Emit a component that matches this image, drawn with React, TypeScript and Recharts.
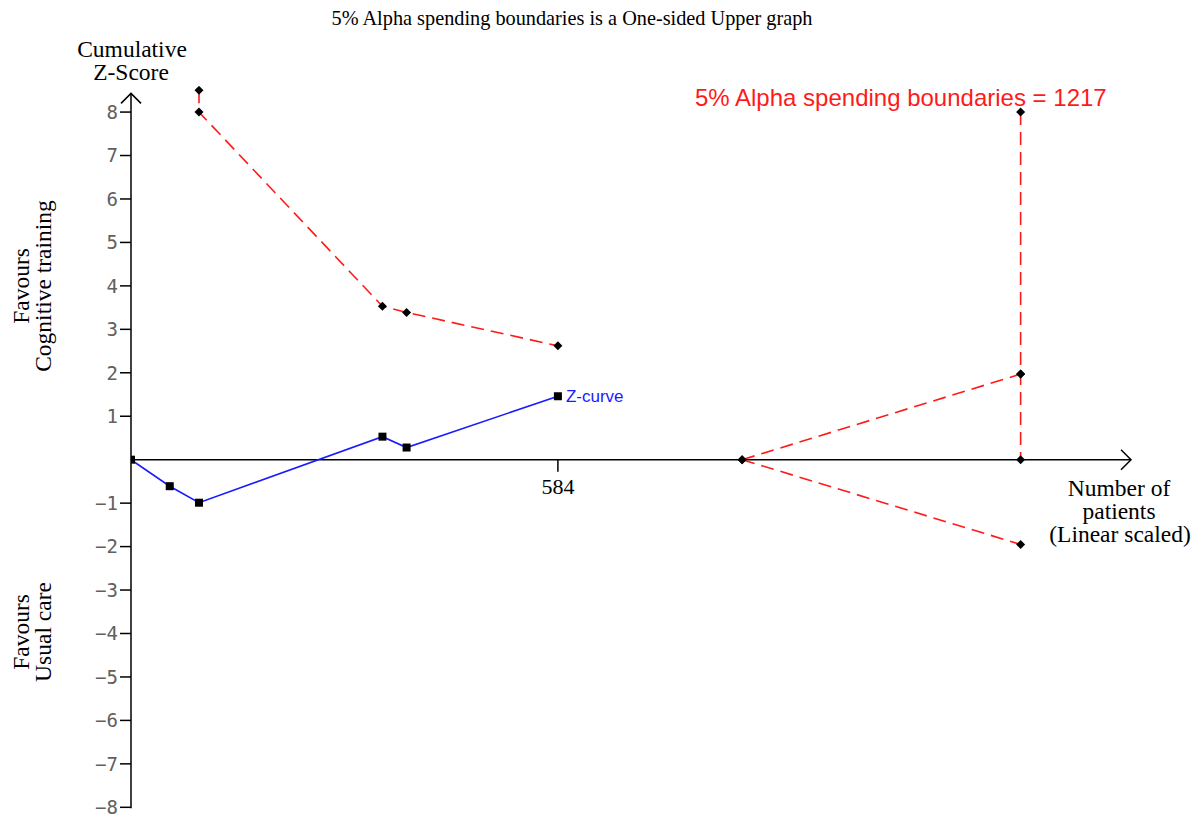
import React from "react";
import { ComposedChart, Line, XAxis, YAxis, ReferenceLine, LabelList } from "recharts";

// Z-curve (cumulative patients, cumulative Z-score)
const zPatients = [0, 53, 93, 344, 377, 584];
const zScores = [0, -0.61, -0.99, 0.53, 0.28, 1.46];

// Upper alpha spending boundary (interim looks)
const upperPatients = [93, 93, 344, 377, 584];
const upperBoundary = [8.5, 8.0, 3.53, 3.39, 2.62];

// Required information size line (vertical at 1217)
const risPatients = [1217, 1217, 1217];
const risValues = [8, 1.97, 0];

// Fan toward required information size
const fanPatients = [836, 1217];
const fanUpperValues = [0, 1.97];
const fanLowerValues = [0, -1.95];

const yTicks = [-8, -7, -6, -5, -4, -3, -2, -1, 1, 2, 3, 4, 5, 6, 7, 8];
const xTickValue = 584;
const requiredSize = 1217;

const toPts = (xs: number[], ys: number[]) => xs.map((x, i) => ({ x, y: ys[i] }));

const zData = toPts(zPatients, zScores);
const upperData = toPts(upperPatients, upperBoundary);
const risData = toPts(risPatients, risValues);
const fanUpperData = toPts(fanPatients, fanUpperValues);
const fanLowerData = toPts(fanPatients, fanLowerValues);

const RED = "#ff1a1a";
const BLUE = "#1a1aff";
const SERIF = "'Liberation Serif', 'Times New Roman', serif";
const SANS = "'Liberation Sans', Arial, sans-serif";

const Diamond = (props: any) => {
  const { cx, cy, index } = props;
  if (cx == null || cy == null) return <g key={index} />;
  const r = 4.5;
  return (
    <path
      key={index}
      d={`M${cx},${cy - r}L${cx + r},${cy}L${cx},${cy + r}L${cx - r},${cy}Z`}
      fill="#000"
    />
  );
};

const Square = (props: any) => {
  const { cx, cy, index } = props;
  if (cx == null || cy == null) return <g key={index} />;
  const r = 4;
  return <rect key={index} x={cx - r} y={cy - r} width={2 * r} height={2 * r} fill="#000" />;
};

const VArrowAxis = (props: any) => {
  const { x1, y1, y2 } = props;
  const top = Math.min(y1, y2);
  const bottom = Math.max(y1, y2);
  return (
    <g>
      <line x1={x1} y1={bottom} x2={x1} y2={top} stroke="#000" strokeWidth={1.5} />
      <path d={`M${x1 - 10},${top + 10}L${x1},${top}L${x1 + 10},${top + 10}`} fill="none" stroke="#000" strokeWidth={1.5} />
    </g>
  );
};

const HArrowAxis = (props: any) => {
  const { x1, y1, x2 } = props;
  const left = Math.min(x1, x2);
  const right = Math.max(x1, x2);
  return (
    <g>
      <line x1={left} y1={y1} x2={right} y2={y1} stroke="#000" strokeWidth={1.5} />
      <path d={`M${right - 10},${y1 - 10}L${right},${y1}L${right - 10},${y1 + 10}`} fill="none" stroke="#000" strokeWidth={1.5} />
    </g>
  );
};

const TickMark = (props: any) => {
  const { x1, y1, x2, y2 } = props;
  const top = Math.min(y1, y2);
  const bottom = Math.max(y1, y2);
  return (
    <g>
      <line x1={x1} y1={top} x2={x2} y2={bottom} stroke="#000" strokeWidth={1.5} />
      <text x={x1} y={bottom + 22} textAnchor="middle" fontFamily={SERIF} fontSize={22} fill="#000">
        {xTickValue}
      </text>
    </g>
  );
};

const ZLabel = (props: any) => {
  const { x, y, index } = props;
  if (index !== zData.length - 1) return null;
  return (
    <text x={x + 8} y={y + 6} fontFamily={SANS} fontSize={17} fill={BLUE}>
      Z-curve
    </text>
  );
};

const fmt = (v: number) => (v < 0 ? "\u2212" + Math.abs(v) : String(v));

export default function App() {
  return (
    <div style={{ position: "absolute", left: 0, top: 0, width: 1204, height: 819, background: "#fff" }}>
      <ComposedChart
        width={1204}
        height={819}
        margin={{ top: 86, right: 73, bottom: 3, left: 71 }}
      >
        <XAxis type="number" dataKey="x" domain={[0, 1368]} hide allowDataOverflow />
        <YAxis
          type="number"
          domain={[-8.2, 8.6]}
          ticks={yTicks}
          allowDataOverflow
          width={60}
          axisLine={false}
          tickLine={{ stroke: "#000", strokeWidth: 1.5 }}
          tickSize={11}
          tickMargin={2}
          tickFormatter={fmt}
          tick={{ fontFamily: "'DejaVu Sans Mono', monospace", fontSize: 19, fill: "#606060" }}
          interval={0}
        />
        <ReferenceLine
          segment={[{ x: 0, y: -8.02 }, { x: 0, y: 8.43 }]}
          shape={VArrowAxis}
          ifOverflow="visible"
        />
        <ReferenceLine
          segment={[{ x: 0, y: 0 }, { x: 1368, y: 0 }]}
          shape={HArrowAxis}
          ifOverflow="visible"
        />
        <ReferenceLine
          segment={[{ x: xTickValue, y: 0 }, { x: xTickValue, y: -0.28 }]}
          shape={TickMark}
          ifOverflow="visible"
        />
        <Line data={risData} dataKey="y" stroke={RED} strokeWidth={1.6} strokeDasharray="13 7" dot={Diamond} isAnimationActive={false} />
        <Line data={fanUpperData} dataKey="y" stroke={RED} strokeWidth={1.6} strokeDasharray="13 7" dot={Diamond} isAnimationActive={false} />
        <Line data={fanLowerData} dataKey="y" stroke={RED} strokeWidth={1.6} strokeDasharray="13 7" dot={Diamond} isAnimationActive={false} />
        <Line data={upperData} dataKey="y" stroke={RED} strokeWidth={1.6} strokeDasharray="13 7" dot={Diamond} isAnimationActive={false} />
        <Line data={zData} dataKey="y" stroke={BLUE} strokeWidth={1.6} dot={Square} isAnimationActive={false}>
          <LabelList dataKey="y" content={ZLabel} />
        </Line>
      </ComposedChart>
      <svg
        width={1204}
        height={819}
        style={{ position: "absolute", left: 0, top: 0, pointerEvents: "none" }}
      >
        <text x={572} y={25} textAnchor="middle" fontFamily={SERIF} fontSize={20.3} fill="#000">
          5% Alpha spending boundaries is a One-sided Upper graph
        </text>
        <text x={132} y={57} textAnchor="middle" fontFamily={SERIF} fontSize={23.5} fill="#000">Cumulative</text>
        <text x={131} y={80} textAnchor="middle" fontFamily={SERIF} fontSize={23.5} fill="#000">Z-Score</text>
        <text transform="translate(29,286) rotate(-90)" textAnchor="middle" fontFamily={SERIF} fontSize={23.5} fill="#000">Favours</text>
        <text transform="translate(51,286) rotate(-90)" textAnchor="middle" fontFamily={SERIF} fontSize={23.5} fill="#000">Cognitive training</text>
        <text transform="translate(29,632) rotate(-90)" textAnchor="middle" fontFamily={SERIF} fontSize={23.5} fill="#000">Favours</text>
        <text transform="translate(51,632) rotate(-90)" textAnchor="middle" fontFamily={SERIF} fontSize={23.5} fill="#000">Usual care</text>
        <text x={1119} y={496} textAnchor="middle" fontFamily={SERIF} fontSize={23.5} fill="#000">Number of</text>
        <text x={1119} y={519} textAnchor="middle" fontFamily={SERIF} fontSize={23.5} fill="#000">patients</text>
        <text x={1120} y={542} textAnchor="middle" fontFamily={SERIF} fontSize={23.5} fill="#000">(Linear scaled)</text>
        <text x={695} y={106} fontFamily={SANS} fontSize={24} fill={RED}>
          {`5% Alpha spending boundaries = ${requiredSize}`}
        </text>
      </svg>
    </div>
  );
}
